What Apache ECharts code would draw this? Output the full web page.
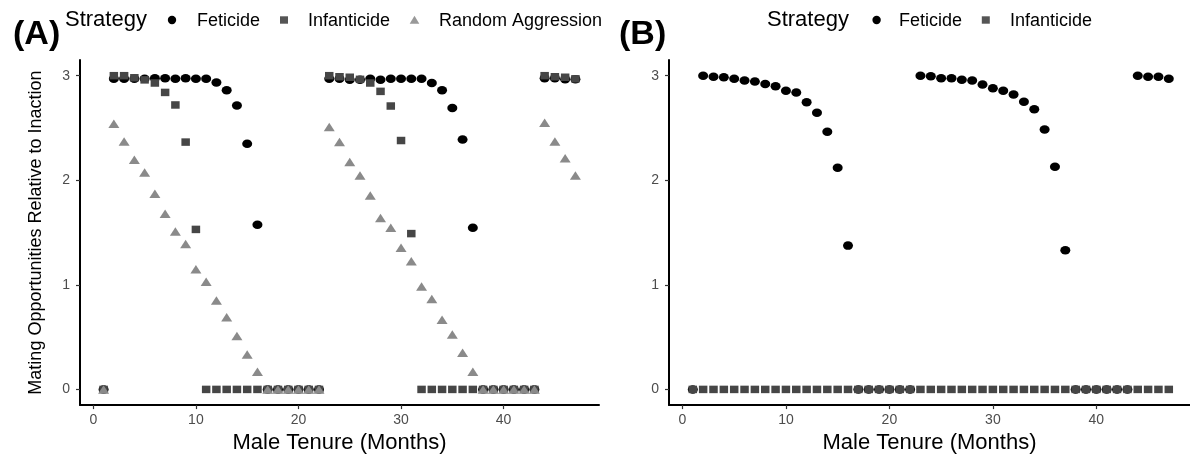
<!DOCTYPE html>
<html>
<head>
<meta charset="utf-8">
<script src="https://cdn.jsdelivr.net/npm/echarts@6/dist/echarts.min.js"></script>
<style>
  html, body { margin: 0; padding: 0; background: #fff; }
  #chart { width: 1190px; height: 459px; }
</style>
</head>
<body>
<div id="chart"></div>
<script>
// ---- Data ----
const months = [1,2,3,4,5,6,7,8,9,10,11,12,13,14,15,16,17,18,19,20,21,22,23,24,25,26,27,28,29,30,31,32,33,34,35,36,37,38,39,40,41,42,43,44,45,46,47];

// Panel A
const feticideA = [0,
  2.97,2.97,2.97,2.97,2.975,2.975,2.97,2.975,2.97,2.97,2.935,2.86,2.715,2.35,1.575,
  0,0,0,0,0,0,
  2.97,2.97,2.96,2.96,2.97,2.96,2.97,2.97,2.97,2.97,2.93,2.86,2.69,2.39,1.545,
  0,0,0,0,0,0,
  2.975,2.975,2.965,2.965];
const infanticideA = [0,
  3.0,3.0,2.98,2.96,2.93,2.84,2.72,2.365,1.53,
  0,0,0,0,0,0,0,0,0,0,0,0,
  3.0,2.99,2.985,2.965,2.93,2.85,2.71,2.38,1.49,
  0,0,0,0,0,0,0,0,0,0,0,0,
  3.0,2.99,2.985,2.97];
const randomA = [0,
  2.54,2.37,2.195,2.075,1.87,1.68,1.51,1.39,1.15,1.03,0.85,0.69,0.51,0.335,0.17,
  0,0,0,0,0,0,
  2.51,2.365,2.175,2.045,1.855,1.64,1.545,1.355,1.225,0.985,0.865,0.665,0.525,0.35,0.17,
  0,0,0,0,0,0,
  2.55,2.37,2.21,2.045];

// Panel B
const feticideB = [0,
  3.0,2.99,2.985,2.97,2.955,2.945,2.92,2.9,2.855,2.84,2.745,2.645,2.465,2.12,1.375,
  0,0,0,0,0,0,
  3.0,2.995,2.975,2.975,2.96,2.955,2.915,2.88,2.855,2.82,2.75,2.68,2.485,2.13,1.33,
  0,0,0,0,0,0,
  3.0,2.99,2.99,2.97];
const infanticideB = [0,0,0,0,0,0,0,0,0,0,0,0,0,0,0,0,0,0,0,0,0,0,0,0,0,0,0,0,0,0,0,0,0,0,0,0,0,0,0,0,0,0,0,0,0,0,0];

const xTicks = [0, 10, 20, 30, 40];
const yTicks = [0, 1, 2, 3];
const seriesNames = ['Feticide', 'Infanticide', 'Random Aggression'];
const legendTitle = 'Strategy';
const xTitle = 'Male Tenure (Months)';
const yTitle = 'Mating Opportunities Relative to Inaction';

// ---- Styles ----
const FONT = '"Liberation Sans", Arial, Helvetica, sans-serif';
const COL_F = '#000000', COL_I = '#464646', COL_R = '#8a8a8a';
const ELLIPSE = 'path://M0,5a5,5 0 1,0 10,0a5,5 0 1,0 -10,0z';

function pairs(vals) { return months.map((m, i) => [m, vals[i]]); }

function xAxisFor(gridIndex, max) {
  return {
    type: 'value', gridIndex: gridIndex, min: -1.3, max: max,
    name: xTitle, nameLocation: 'middle', nameGap: 19,
    nameTextStyle: { fontFamily: FONT, fontSize: 22, color: '#000' },
    axisLine: { show: true, onZero: false, lineStyle: { color: '#000', width: 2 } },
    axisTick: { show: true, length: 4, customValues: xTicks, lineStyle: { color: '#333', width: 1.2 } },
    axisLabel: { customValues: xTicks, margin: 8, fontFamily: FONT, fontSize: 14, color: '#4d4d4d' },
    splitLine: { show: false }
  };
}
function yAxisFor(gridIndex, withName) {
  return {
    type: 'value', gridIndex: gridIndex, min: -0.15, max: 3.15,
    name: withName ? yTitle : '', nameLocation: 'middle', nameGap: 35,
    nameTextStyle: { fontFamily: FONT, fontSize: 18, color: '#000' },
    axisLine: { show: true, onZero: false, lineStyle: { color: '#000', width: 2 } },
    axisTick: { show: true, length: 4, customValues: yTicks, lineStyle: { color: '#333', width: 1.2 } },
    axisLabel: { customValues: yTicks, margin: 10, fontFamily: FONT, fontSize: 14, color: '#4d4d4d' },
    splitLine: { show: false }
  };
}
function sc(name, xi, vals, color, symbol, size, z) {
  return {
    name: name, type: 'scatter', xAxisIndex: xi, yAxisIndex: xi,
    data: pairs(vals), symbol: symbol, symbolSize: size, z: z,
    itemStyle: { color: color, opacity: 1 }, silent: true, animation: false
  };
}

function txt(x, y, text, size, bold) {
  return { type: 'text', x: x, y: y, style: { text: text, font: (bold ? 'bold ' : '') + size + 'px ' + FONT, fill: '#000', verticalAlign: 'middle', align: 'left' } };
}
function dot(cx, cy, color) { return { type: 'circle', shape: { cx: cx, cy: cy, r: 4.2 }, style: { fill: color } }; }
function sq(cx, cy, color) { return { type: 'rect', shape: { x: cx - 4, y: cy - 3.7, width: 8, height: 7.4 }, style: { fill: color } }; }
function tri(cx, cy, color) { return { type: 'polygon', shape: { points: [[cx, cy - 4.2], [cx + 4.8, cy + 3.8], [cx - 4.8, cy + 3.8]] }, style: { fill: color } }; }

const chart = echarts.init(document.getElementById('chart'), null, { renderer: 'canvas' });
chart.setOption({
  backgroundColor: '#ffffff',
  animation: false,
  grid: [
    { left: 80, top: 60, width: 519, height: 348.5 },
    { left: 669, top: 60, width: 521, height: 348.5 }
  ],
  xAxis: [xAxisFor(0, 49.3), xAxisFor(1, 49.05)],
  yAxis: [yAxisFor(0, true), yAxisFor(1, false)],
  series: [
    sc(seriesNames[0], 0, feticideA, COL_F, ELLIPSE, [10, 8.5], 2),
    sc(seriesNames[1], 0, infanticideA, COL_I, 'rect', [8.5, 7.5], 3),
    sc(seriesNames[2], 0, randomA, COL_R, 'triangle', [11, 8.5], 4),
    sc(seriesNames[0], 1, feticideB, COL_F, ELLIPSE, [10, 8.5], 2),
    sc(seriesNames[1], 1, infanticideB, COL_I, 'rect', [8.5, 7.5], 3)
  ],
  graphic: [
    txt(13, 35, '(A)', 34, true),
    txt(65, 20, legendTitle, 22, false),
    dot(172, 20, '#000'), txt(197, 21, seriesNames[0], 18, false),
    sq(284, 20, '#555'), txt(308, 21, seriesNames[1], 18, false),
    tri(414.5, 20, '#999'), txt(439, 21, seriesNames[2], 18, false),
    txt(619, 35, '(B)', 34, true),
    txt(767, 20, legendTitle, 22, false),
    dot(876.6, 20, '#000'), txt(899, 21, seriesNames[0], 18, false),
    sq(985.8, 20, '#555'), txt(1010, 21, seriesNames[1], 18, false)
  ]
});
</script>
</body>
</html>
